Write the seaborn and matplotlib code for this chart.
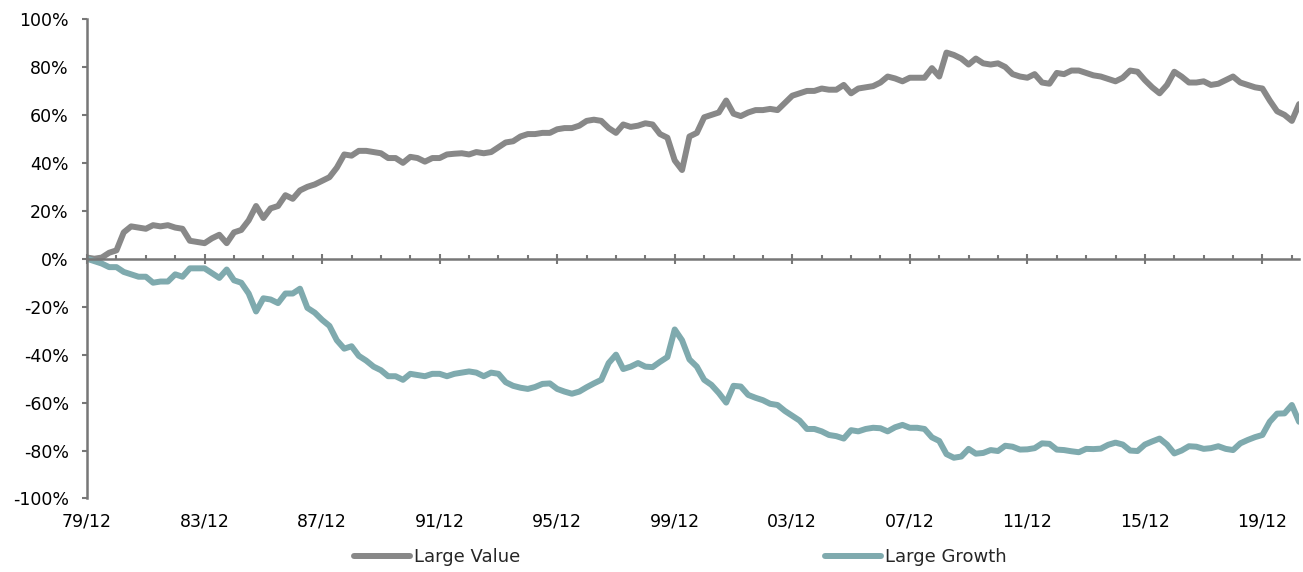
import pandas as pd
import numpy as np
import matplotlib.pyplot as plt
import matplotlib.dates as mdates
import matplotlib.ticker as mtick
import seaborn as sns

# quarterly readings, Dec 1979 .. Mar 2021 (cumulative relative return, %)
start_date = '1979-12-01'

large_value = [
    0.5, 0, 0.5, 2.5, 3.5, 11, 13.5, 13, 12.5, 14,
    13.5, 14, 13, 12.5, 7.5, 7, 6.5, 8.5, 10, 6.5,
    11, 12, 16, 22, 17, 21, 22, 26.5, 25, 28.5,
    30, 31, 32.5, 34, 38, 43.5, 43, 45, 45, 44.5,
    44, 42, 42, 40, 42.5, 42, 40.5, 42, 42, 43.5,
    43.8, 44, 43.5, 44.5, 44, 44.5, 46.5, 48.5, 49, 51,
    52, 52, 52.5, 52.5, 54, 54.5, 54.5, 55.5, 57.5, 58,
    57.5, 54.5, 52.5, 56, 55, 55.5, 56.5, 56, 52, 50.5,
    41, 37, 51, 52.5, 59, 60, 61, 66, 60.5, 59.5,
    61, 62, 62, 62.5, 62, 65, 68, 69, 70, 70,
    71, 70.5, 70.5, 72.5, 69, 71, 71.5, 72, 73.5, 76,
    75.2, 74, 75.5, 75.5, 75.5, 79.5, 76, 86, 85, 83.5,
    81, 83.5, 81.5, 81, 81.5, 80, 77, 76, 75.5, 77,
    73.5, 73, 77.5, 77, 78.5, 78.5, 77.5, 76.5, 76, 75,
    74, 75.5, 78.5, 78, 74.5, 71.5, 69, 72.5, 78, 76,
    73.5, 73.5, 74, 72.5, 73, 74.5, 76, 73.5, 72.5, 71.5,
    71, 66, 61.5, 60, 57.5, 64.5,
]

large_growth = [
    0, -1, -2, -3.5, -3.5, -5.5, -6.5, -7.5, -7.5, -10,
    -9.5, -9.5, -6.5, -7.5, -4, -4, -4, -6, -8, -4.5,
    -9, -10, -14.5, -22, -16.5, -17, -18.5, -14.5, -14.5, -12.5,
    -20.5, -22.5, -25.5, -28, -34, -37.5, -36.5, -40.5, -42.5, -45,
    -46.5, -49, -49, -50.5, -48, -48.5, -49, -48, -48, -49,
    -48, -47.5, -47, -47.5, -49, -47.5, -48, -51.5, -53, -53.8,
    -54.3, -53.5, -52.2, -52, -54.3, -55.4, -56.3, -55.4, -53.6, -52,
    -50.5, -43.5, -40, -46, -45, -43.5, -45, -45.2, -43, -41,
    -29.5, -34, -42, -45, -50.5, -52.6, -56, -60, -53, -53.3,
    -56.8, -58, -59, -60.5, -61, -63.5, -65.5, -67.5, -71, -71,
    -72, -73.5, -74, -75, -71.5, -72, -71, -70.5, -70.7, -72,
    -70.3, -69.3, -70.5, -70.5, -71, -74.5, -76, -81.5, -83, -82.5,
    -79.3, -81.3, -81, -79.8, -80.2, -78, -78.4, -79.6, -79.5, -79,
    -77, -77.2, -79.6, -79.8, -80.3, -80.7, -79.3, -79.4, -79.2, -77.6,
    -76.7, -77.5, -80, -80.2, -77.5, -76.2, -75, -77.5, -81.2, -80,
    -78.2, -78.4, -79.3, -79, -78.2, -79.3, -79.8, -77, -75.6, -74.4,
    -73.5, -68, -64.6, -64.5, -61, -68,
]

series_names = ['Large Value', 'Large Growth']
series_colors = ['#888888', '#7faaae']
major_years = list(range(1979, 2020, 4))
minor_years = list(range(1979, 2021))

dates = pd.date_range(start_date, periods=len(large_value), freq=pd.DateOffset(months=3))
df = pd.DataFrame({'Date': dates, 'Large Value': large_value, 'Large Growth': large_growth})
long_df = df.melt(id_vars='Date', var_name='Series', value_name='Return')

sns.set_style('white')
plt.rcParams['font.family'] = ['DejaVu Sans']

fig = plt.figure(figsize=(13.03, 5.72), dpi=100)
ax = fig.add_axes([0.0668, 0.1285, 0.9302, 0.8383])

sns.lineplot(data=long_df, x='Date', y='Return', hue='Series', hue_order=series_names,
             palette=series_colors, linewidth=4.3, ax=ax, legend=False)

axis_color = '#777777'

# y axis
ax.set_ylim(-100, 100)
ax.yaxis.set_major_locator(mtick.MultipleLocator(20))
ax.yaxis.set_major_formatter(mtick.FuncFormatter(lambda v, _: f'{v:.0f}%'))
ax.tick_params(axis='y', direction='out', length=3.6, width=1.5, color=axis_color,
               labelsize=12.5, labelcolor='black', pad=9.5, left=True)

# x axis sits on the zero line, labels at the bottom
ax.set_xlim(dates[0], dates[-1])
ax.xaxis.set_major_locator(mtick.FixedLocator(mdates.date2num([pd.Timestamp(y, 12, 1) for y in major_years])))
ax.xaxis.set_minor_locator(mtick.FixedLocator(mdates.date2num([pd.Timestamp(y, 12, 1) for y in minor_years])))
ax.xaxis.set_major_formatter(mdates.DateFormatter('%y/%m'))
ax.tick_params(axis='x', which='major', direction='inout', length=7.2, width=1.5, color=axis_color,
               labelsize=12.5, labelcolor='black', pad=179, bottom=True)
ax.tick_params(axis='x', which='minor', direction='in', length=3, width=1.5, color=axis_color, bottom=True)

ax.spines['bottom'].set_position(('data', 0))
for s in ['left', 'bottom']:
    ax.spines[s].set_color(axis_color)
    ax.spines[s].set_linewidth(1.8)
ax.spines['top'].set_visible(False)
ax.spines['right'].set_visible(False)
ax.set_xlabel('')
ax.set_ylabel('')
ax.grid(False)

handles = [plt.Line2D([], [], color=c, linewidth=4.3, solid_capstyle='round') for c in series_colors]
ax.legend(handles, series_names, loc='center', bbox_to_anchor=(0.522, 0.026),
          bbox_transform=fig.transFigure, ncol=2, frameon=False, fontsize=13,
          handlelength=3.1, handletextpad=0.22, columnspacing=16.9)

fig.savefig('out.png', dpi=100)
